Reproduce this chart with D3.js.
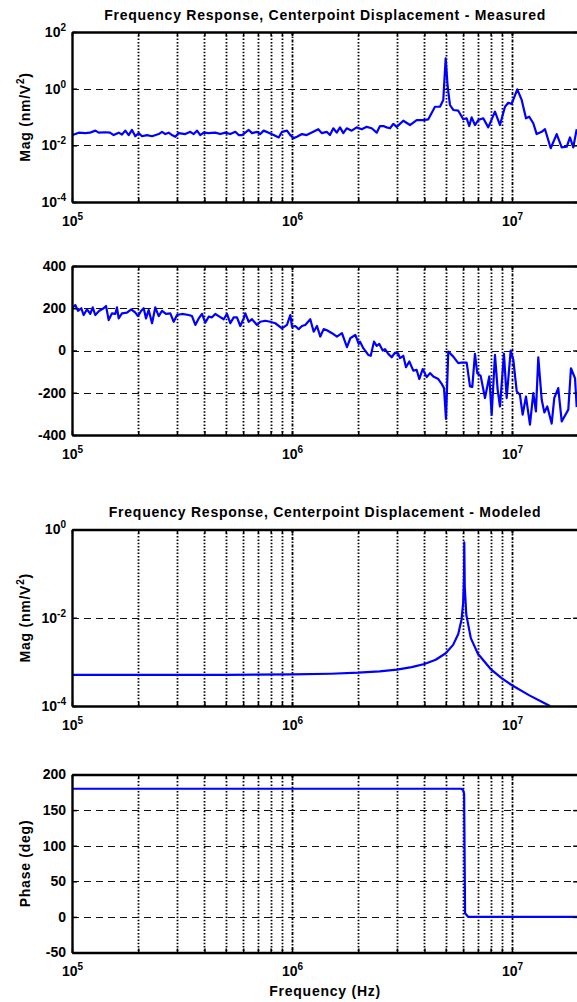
<!DOCTYPE html>
<html>
<head>
<meta charset="utf-8">
<style>
  body { margin: 0; background: #fff; }
  svg text { font-family: Arial, "Liberation Sans", Helvetica, sans-serif; font-weight: bold; font-size: 14px; fill: #000; }
  .ttl { letter-spacing: 0.75px; }
</style>
</head>
<body>
<svg width="577" height="1002"></svg>
<script src="https://cdn.jsdelivr.net/npm/d3@7"></script>
<script>
// measured magnitude [Hz, nm/V^2]
var measuredMag = [
  [1.000e5,0.023],[1.035e5,0.025],[1.073e5,0.028],[1.149e5,0.027],[1.207e5,0.028],[1.276e5,0.033],
  [1.323e5,0.028],[1.417e5,0.029],[1.488e5,0.028],[1.547e5,0.023],[1.630e5,0.028],[1.687e5,0.024],
  [1.747e5,0.033],[1.810e5,0.023],[1.874e5,0.035],[1.940e5,0.021],[2.011e5,0.027],[2.081e5,0.021],
  [2.193e5,0.023],[2.311e5,0.021],[2.479e5,0.025],[2.566e5,0.030],[2.656e5,0.025],[2.751e5,0.028],
  [2.848e5,0.023],[2.948e5,0.020],[3.055e5,0.027],[3.273e5,0.025],[3.449e5,0.030],[3.574e5,0.025],
  [3.700e5,0.033],[3.830e5,0.023],[3.968e5,0.028],[4.182e5,0.027],[4.481e5,0.028],[4.722e5,0.025],
  [4.976e5,0.028],[5.243e5,0.025],[5.525e5,0.030],[5.724e5,0.023],[5.926e5,0.023],[6.134e5,0.028],
  [6.357e5,0.035],[6.580e5,0.027],[6.933e5,0.030],[7.177e5,0.025],[7.437e5,0.033],[7.836e5,0.028],
  [8.256e5,0.023],[8.700e5,0.019],[9.006e5,0.030],[9.490e5,0.033],[9.824e5,0.023],[1.018e6,0.018],
  [1.054e6,0.020],[1.110e6,0.025],[1.166e6,0.023],[1.250e6,0.030],[1.317e6,0.037],[1.365e6,0.027],
  [1.438e6,0.030],[1.488e6,0.023],[1.541e6,0.040],[1.597e6,0.028],[1.653e6,0.043],[1.711e6,0.027],
  [1.773e6,0.040],[1.868e6,0.033],[1.968e6,0.043],[2.074e6,0.037],[2.185e6,0.045],[2.303e6,0.040],
  [2.427e6,0.028],[2.512e6,0.048],[2.600e6,0.048],[2.695e6,0.043],[2.790e6,0.040],[2.888e6,0.057],
  [2.992e6,0.045],[3.206e6,0.074],[3.439e6,0.052],[3.688e6,0.078],[3.953e6,0.078],[4.165e6,0.083],
  [4.467e6,0.23],[4.707e6,0.23],[4.872e6,0.40],[4.996e6,11.8],[5.102e6,1.17],[5.226e6,0.265],
  [5.410e6,0.177],[5.700e6,0.167],[6.006e6,0.083],[6.224e6,0.090],[6.395e6,0.048],[6.558e6,0.0975],
  [6.788e6,0.052],[7.027e6,0.078],[7.404e6,0.090],[7.802e6,0.043],[8.370e6,0.154],[8.820e6,0.052],
  [9.294e6,0.23],[9.621e6,0.32],[9.969e6,0.29],[1.057e7,0.95],[1.107e7,0.40],[1.158e7,0.090],
  [1.198e7,0.102],[1.250e7,0.060],[1.295e7,0.025],[1.365e7,0.030],[1.413e7,0.037],[1.500e7,0.0079],
  [1.597e7,0.025],[1.683e7,0.0085],[1.773e7,0.0089],[1.835e7,0.019],[1.899e7,0.0085],[1.969e7,0.037]
];

// measured phase [Hz, deg]
var measuredPhase = [
  [1.000e5,200],[1.035e5,215],[1.065e5,188],[1.102e5,200],[1.130e5,168],[1.170e5,195],[1.211e5,173],
  [1.242e5,204],[1.276e5,168],[1.331e5,188],[1.393e5,200],[1.428e5,211],[1.468e5,144],[1.520e5,176],
  [1.573e5,173],[1.601e5,204],[1.630e5,152],[1.687e5,176],[1.778e5,179],[1.860e5,195],[1.940e5,179],
  [1.995e5,163],[2.065e5,188],[2.118e5,200],[2.170e5,152],[2.232e5,192],[2.311e5,129],[2.391e5,204],
  [2.479e5,163],[2.566e5,188],[2.675e5,173],[2.798e5,176],[2.900e5,136],[3.002e5,168],[3.162e5,173],
  [3.392e5,168],[3.511e5,163],[3.636e5,121],[3.767e5,152],[3.899e5,173],[4.036e5,132],[4.182e5,160],
  [4.329e5,157],[4.481e5,173],[4.643e5,163],[4.893e5,148],[5.065e5,173],[5.243e5,129],[5.433e5,157],
  [5.623e5,157],[5.821e5,116],[6.032e5,152],[6.134e5,176],[6.357e5,136],[6.580e5,148],[6.933e5,121],
  [7.177e5,136],[7.563e5,141],[7.969e5,136],[8.398e5,129],[9.006e5,105],[9.490e5,121],[9.824e5,168],
  [1.000e6,113],[1.035e6,116],[1.073e6,101],[1.110e6,116],[1.149e6,121],[1.211e6,148],[1.255e6,89],
  [1.299e6,116],[1.345e6,66],[1.393e6,101],[1.442e6,96],[1.520e6,82],[1.601e6,66],[1.687e6,82],
  [1.778e6,16],[1.841e6,58],[1.940e6,74],[2.011e6,31],[2.038e6,42],[2.109e6,11],[2.223e6,-21],
  [2.280e6,-25],[2.359e6,42],[2.427e6,22],[2.494e6,31],[2.585e6,0],[2.647e6,6],[2.740e6,-16],
  [2.839e6,-32],[2.939e6,-10],[3.042e6,-16],[3.097e6,-36],[3.206e6,-25],[3.298e6,-79],[3.414e6,-52],
  [3.560e6,-95],[3.688e6,-92],[3.790e6,-135],[3.928e6,-88],[4.097e6,-126],[4.241e6,-107],[4.390e6,-123],
  [4.624e6,-135],[4.792e6,-158],[4.909e6,-178],[5.012e6,-324],[5.134e6,-5],[5.410e6,-29],[5.700e6,-60],
  [5.907e6,-57],[6.224e6,-57],[6.444e6,-170],[6.600e6,-173],[6.788e6,-16],[6.955e6,-107],[7.206e6,-120],
  [7.539e6,-225],[7.885e6,-123],[8.085e6,-304],[8.370e6,-21],[8.610e6,-186],[8.820e6,-265],[9.196e6,-16],
  [9.461e6,-225],[9.865e6,0],[1.014e7,-44],[1.051e7,-194],[1.087e7,-210],[1.118e7,-304],[1.158e7,-218],
  [1.207e7,-351],[1.250e7,-202],[1.285e7,-288],[1.317e7,-32],[1.365e7,-233],[1.403e7,-293],[1.447e7,-265],
  [1.515e7,-346],[1.557e7,-225],[1.623e7,-178],[1.683e7,-336],[1.803e7,-280],[1.854e7,-84],[1.934e7,-131],
  [1.969e7,-268]
];

// modeled magnitude [Hz, nm/V^2]
var modeledMag = [
  [1.0e5,5.06e-4],[5.0e5,5.10e-4],[1.0e6,5.20e-4],[1.5e6,5.38e-4],[2.0e6,5.68e-4],[2.5e6,6.10e-4],
  [3.0e6,6.70e-4],[3.5e6,7.60e-4],[4.0e6,8.94e-4],[4.5e6,1.12e-3],[5.0e6,1.57e-3],[5.4e6,2.43e-3],
  [5.7e6,4.28e-3],[5.9e6,9.17e-3],[6.0e6,2.21e-2],[6.05e6,7.7e-2],[6.07e6,0.51],[6.1e6,5.1e-2],
  [6.2e6,1.17e-2],[6.5e6,3.45e-3],[7.0e6,1.53e-3],[8.0e6,6.87e-4],[9.0e6,4.22e-4],[1.0e7,2.95e-4],
  [1.2e7,1.74e-4],[1.4e7,1.17e-4],[1.49e7,1.0e-4]
];

// modeled phase [Hz, deg]
var modeledPhase = [
  [1.0e5,180],[5.88e6,180],[6.0e6,178],[6.06e6,173],[6.12e6,5],[6.33e6,0],[2.0e7,0]
];

var xDomain = [1e5, 2e7];
var xDecades = [1e5, 1e6, 1e7];
var xGrid = [2e5,3e5,4e5,5e5,6e5,7e5,8e5,9e5,1e6,2e6,3e6,4e6,5e6,6e6,7e6,8e6,9e6,1e7];
var magTicksMeasured = [1e-4, 1e-2, 1, 1e2];
var phaseTicksMeasured = [-400, -200, 0, 200, 400];
var magTicksModeled = [1e-4, 1e-2, 1];
var phaseTicksModeled = [-50, 0, 50, 100, 150, 200];

var svg = d3.select("svg");
var left = 72, right = 578.2;
var x = d3.scaleLog().domain(xDomain).range([left, right]);

var panels = [
  {top: 32, bottom: 202, log: true, domain: [1e-4, 1e2], ticks: magTicksMeasured, data: measuredMag,
   title: "Frequency Response, Centerpoint Displacement - Measured", ylabel: "mag"},
  {top: 266, bottom: 435, log: false, domain: [-400, 400], ticks: phaseTicksMeasured, data: measuredPhase},
  {top: 529.5, bottom: 706, log: true, domain: [1e-4, 1], ticks: magTicksModeled, data: modeledMag,
   title: "Frequency Response, Centerpoint Displacement - Modeled", ylabel: "mag"},
  {top: 774.5, bottom: 952.5, log: false, domain: [-50, 200], ticks: phaseTicksModeled, data: modeledPhase,
   ylabel: "phase", xlabel: "Frequency (Hz)"}
];

function sup(text) {
  // turn "10" labels into 10^n
  text.each(function(d) {
    var t = d3.select(this);
    t.text("10");
    t.append("tspan").attr("dy", -6).style("font-size", "10px")
      .text(String(Math.round(Math.log10(d))));
  });
}

panels.forEach(function(p, i) {
  var y = (p.log ? d3.scaleLog() : d3.scaleLinear()).domain(p.domain).range([p.bottom, p.top]);
  var g = svg.append("g");

  g.append("clipPath").attr("id", "clip" + i).append("rect")
    .attr("x", left).attr("y", p.top).attr("width", right - left).attr("height", p.bottom - p.top);

  // vertical dotted grid
  g.append("g").selectAll("line").data(xGrid).enter().append("line")
    .attr("x1", function(d) { return Math.round(x(d)) + 0.5; })
    .attr("x2", function(d) { return Math.round(x(d)) + 0.5; })
    .attr("y1", p.top).attr("y2", p.bottom)
    .attr("stroke", "#000").attr("stroke-width", 1.8)
    .attr("stroke-dasharray", function(d) { return xDecades.indexOf(d) >= 0 ? "3,1.5,1.5,1.5" : "1.5,1.8"; });

  // horizontal dashed grid
  g.append("g").selectAll("line").data(p.ticks.slice(1, -1)).enter().append("line")
    .attr("x1", left).attr("x2", right)
    .attr("y1", function(d) { return Math.round(y(d)) + 0.5; })
    .attr("y2", function(d) { return Math.round(y(d)) + 0.5; })
    .attr("stroke", "#111").attr("stroke-width", 1).attr("stroke-dasharray", "7,5");

  // data line
  var line = d3.line()
    .x(function(d) { return x(d[0]); })
    .y(function(d) { return y(d[1]); });
  g.append("path").datum(p.data)
    .attr("clip-path", "url(#clip" + i + ")")
    .attr("fill", "none").attr("stroke", "#0000ff").attr("stroke-width", 2.2)
    .attr("stroke-linejoin", "round")
    .attr("d", line);

  // axes
  var xb = d3.axisBottom(x).tickValues(xDecades.concat(xGrid.filter(function(d) { return xDecades.indexOf(d) < 0; })))
    .tickSizeInner(-4).tickSizeOuter(0).tickPadding(14)
    .tickFormat(function(d) { return xDecades.indexOf(d) >= 0 ? "10" : ""; });
  var ax = g.append("g").attr("transform", "translate(0," + p.bottom + ")").call(xb);
  ax.selectAll("text").filter(function(d) { return xDecades.indexOf(d) >= 0; }).call(sup);

  var xt = d3.axisTop(x).tickValues(xDecades.concat(xGrid)).tickSizeInner(-4).tickSizeOuter(0).tickFormat("");
  g.append("g").attr("transform", "translate(0," + p.top + ")").call(xt);

  var yl = d3.axisLeft(y).tickValues(p.ticks).tickSizeInner(-5).tickSizeOuter(0).tickPadding(6)
    .tickFormat(function(d) { return p.log ? "10" : String(d); });
  var ay = g.append("g").attr("transform", "translate(" + left + ",0)").call(yl);
  if (p.log) ay.selectAll("text").call(sup);

  var yr = d3.axisRight(y).tickValues(p.ticks).tickSizeInner(-5).tickSizeOuter(0).tickFormat("");
  g.append("g").attr("transform", "translate(" + right + ",0)").call(yr);

  g.selectAll(".domain").attr("stroke", "#000").attr("stroke-width", 2.4);
  g.selectAll(".tick line").attr("stroke", "#000").attr("stroke-width", 1.5);
  g.selectAll("g").attr("font-family", null).attr("font-size", null);

  if (p.title) {
    g.append("text").attr("class", "ttl")
      .attr("x", (left + right) / 2).attr("y", p.top - 12.5)
      .attr("text-anchor", "middle").text(p.title);
  }
  if (p.ylabel) {
    var lab = g.append("text").attr("class", "ttl")
      .attr("transform", "translate(29.5," + (p.top + p.bottom) / 2 + ") rotate(-90)")
      .attr("text-anchor", "middle");
    if (p.ylabel === "mag") {
      lab.append("tspan").text("Mag (nm/V");
      lab.append("tspan").attr("dy", -6).style("font-size", "10px").text("2");
      lab.append("tspan").attr("dy", 6).text(")");
    } else {
      lab.text("Phase (deg)");
    }
  }
  if (p.xlabel) {
    g.append("text").attr("class", "ttl")
      .attr("x", (left + right) / 2).attr("y", 996)
      .attr("text-anchor", "middle").text(p.xlabel);
  }
});
</script>
</body>
</html>
